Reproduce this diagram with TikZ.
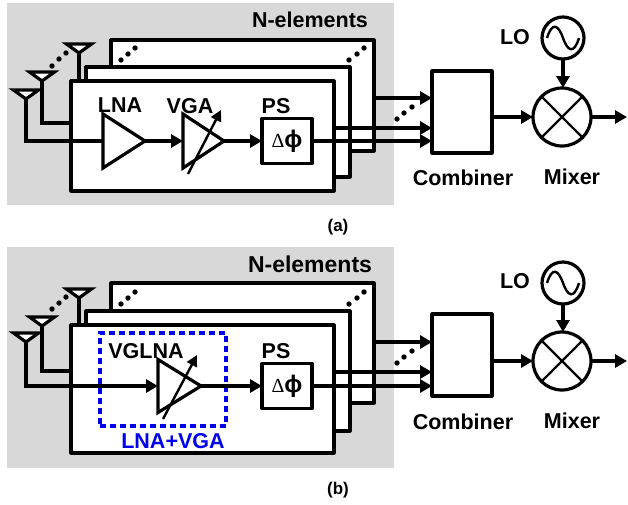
\documentclass[tikz,border=0pt]{standalone}
\usepackage{fontspec}
\setmainfont{Liberation Sans}
\newfontfamily\symbfont{Liberation Serif}
\usetikzlibrary{arrows.meta}
\usetikzlibrary{shapes.geometric}
\definecolor{panelgray}{RGB}{216,216,216}
\definecolor{lnablue}{RGB}{0,0,240}
\newcommand{\dphi}{{\symbfont\fontsize{20}{20}\selectfont\symbol{"0394}}{\fontsize{24}{24}\selectfont\bfseries\symbol{"03D5}}}
\tikzset{
	wire/.style={line width=3.2pt},
	arrowwire/.style={line width=3.2pt, -{Triangle[length=12pt,width=13pt]}},
	elembox/.style={draw, fill=white, line width=3.2pt, line join=round, inner sep=0pt, outer sep=0pt},
	amp/.style={draw, fill=white, line width=3.2pt, isosceles triangle, isosceles triangle stretches, inner sep=0pt, outer sep=0pt, anchor=lower side},
	antenna/.style={draw, fill=white, line width=3.2pt, isosceles triangle, isosceles triangle stretches, shape border rotate=270, inner sep=0pt, outer sep=0pt, minimum width=25pt, minimum height=9pt, anchor=apex},
	lbl/.style={font=\fontsize{21.5}{22}\selectfont\bfseries, inner sep=0pt},
	sublbl/.style={font=\fontsize{17}{17}\selectfont\bfseries, inner sep=0pt},
	roundblock/.style={draw, fill=white, circle, line width=3.2pt, inner sep=0pt, outer sep=0pt},
	gain/.style={line width=2.4pt, -{Triangle[length=11pt,width=11pt]}}
}
\begin{document}
\begin{tikzpicture}[x=1pt,y=-1pt]
	\useasboundingbox (0,0) rectangle (628,504);

	% Panel (a): gray background
	\fill[panelgray] (7,3) rectangle (394,205);
	\node[lbl] (title1) at (310,20) {N-elements};

	% Stacked element boxes
	\node[elembox, minimum width=263pt, minimum height=111pt] (back1) at (242.5,95.5) {};
	\node[elembox, minimum width=264pt, minimum height=110pt] (mid1) at (218,122) {};
	\fill (121,60) circle (2.7pt) (128,54) circle (2.7pt) (135,48) circle (2.7pt);
	\fill (349,60) circle (2.7pt) (357,54) circle (2.7pt) (364,48) circle (2.7pt);

	% Antennas
	\node[antenna] (ant1a) at (26,99) {};
	\node[antenna] (ant2a) at (42,81) {};
	\node[antenna] (ant3a) at (79,53) {};
	\coordinate (in2a) at (71,123);
	\node[elembox, minimum width=263pt, minimum height=110pt] (front1) at (202.5,136) {};
	\draw[wire] (ant2a.apex) |- (in2a);
	\draw[wire] (ant3a.apex) -- (ant3a.apex |- front1.north);
	\fill (52,66) circle (2.7pt) (59,59) circle (2.7pt) (66,53) circle (2.7pt);

	% LNA, VGA, PS
	\node[amp, minimum width=54pt, minimum height=42pt] (lna1) at (103,141) {};
	\node[amp, minimum width=54pt, minimum height=41pt] (vga1) at (183,141) {};
	\node[elembox, minimum width=50pt, minimum height=45pt] (ps1) at (287,141) {\dphi};
	\node[lbl] (lnatxt1) at (120,105) {LNA};
	\node[lbl] (vgatxt1) at (190,106) {VGA};
	\node[lbl] (pstxt1) at (276,106) {PS};
	\draw[gain] (188,174) -- (221,110);
	\draw[wire] (ant1a.apex) |- (lna1.lower side);
	\draw[arrowwire] (lna1.apex) -- (vga1.lower side);
	\draw[arrowwire] (vga1.apex) -- (ps1.west);

	% Combiner and mixer
	\node[elembox, minimum width=60pt, minimum height=82pt] (comb1) at (462,112) {};
	\node[lbl] (combtxt1) at (463,178) {Combiner};
	\node[roundblock, minimum size=58pt] (mix1) at (562,117) {};
	\node[lbl] (mixtxt1) at (572,177) {Mixer};
	\node[roundblock, minimum size=42pt] (lo1) at (563,38) {};
	\node[lbl] (lotxt1) at (515,37) {LO};
	\draw[line width=2.4pt] (mix1.45) -- (mix1.225);
	\draw[line width=2.4pt] (mix1.135) -- (mix1.315);
	\draw[line width=2.4pt] (547,38) .. controls (552,22) and (558,24) .. (563,38) .. controls (568,52) and (574,54) .. (579,38);

	% Outputs
	\coordinate (c1a) at (comb1.west |- 0,98);
	\coordinate (c2a) at (comb1.west |- 0,128);
	\coordinate (c3a) at (comb1.west |- 0,141);
	\coordinate (out1) at (627,117);
	\draw[arrowwire] (back1.east |- c1a) -- (c1a);
	\draw[arrowwire] (front1.east |- c2a) -- (c2a);
	\draw[arrowwire] (ps1.east |- c3a) -- (c3a);
	\fill (397,119) circle (2.7pt) (404,113) circle (2.7pt) (412,107) circle (2.7pt);
	\draw[arrowwire] (comb1.east |- mix1.west) -- (mix1.west);
	\draw[arrowwire] (lo1.south) -- (mix1.north -| lo1.south);
	\draw[arrowwire] (mix1.east) -- (out1);
	\node[sublbl] (capa) at (338,227) {(a)};

	% Panel (b): gray background
	\fill[panelgray] (7,247) rectangle (394,468);
	\node[lbl, font=\fontsize{23}{23}\selectfont\bfseries] (title2) at (310,264) {N-elements};

	% Stacked element boxes
	\node[elembox, minimum width=263pt, minimum height=120pt] (back2) at (242.5,343) {};
	\node[elembox, minimum width=264pt, minimum height=120pt] (mid2) at (218,371) {};
	\fill (121,304) circle (2.7pt) (128,298) circle (2.7pt) (135,292) circle (2.7pt);
	\fill (349,304) circle (2.7pt) (357,298) circle (2.7pt) (364,292) circle (2.7pt);

	% Antennas
	\node[antenna] (ant1b) at (26,342) {};
	\node[antenna] (ant2b) at (42,326) {};
	\node[antenna] (ant3b) at (79,298) {};
	\coordinate (in2b) at (71,371);
	\node[elembox, minimum width=263pt, minimum height=128pt] (front2) at (202.5,389) {};
	\draw[wire] (ant2b.apex) |- (in2b);
	\draw[wire] (ant3b.apex) -- (ant3b.apex |- front2.north);
	\fill (52,309) circle (2.7pt) (59,303) circle (2.7pt) (66,297) circle (2.7pt);

	% VGLNA, PS
	\node[draw=lnablue, line width=3.2pt, dash pattern=on 6pt off 4pt, minimum width=126pt, minimum height=93pt, inner sep=0pt] (dash2) at (163,379.5) {};
	\node[lbl] (vglnatxt2) at (146,351) {VGLNA};
	\node[lbl, text=lnablue] (sumtxt2) at (173,441) {LNA+VGA};
	\node[amp, minimum width=53pt, minimum height=43pt] (lna2) at (158,386) {};
	\node[elembox, minimum width=50pt, minimum height=45pt] (ps2) at (287,386) {\dphi};
	\node[lbl] (pstxt2) at (276,351) {PS};
	\draw[gain] (163,419) -- (197,355);
	\draw[arrowwire] (ant1b.apex) |- (lna2.lower side);
	\draw[arrowwire] (lna2.apex) -- (ps2.west);

	% Combiner and mixer
	\node[elembox, minimum width=60pt, minimum height=82pt] (comb2) at (462,355) {};
	\node[lbl] (combtxt2) at (463,422) {Combiner};
	\node[roundblock, minimum size=58pt] (mix2) at (562,361) {};
	\node[lbl] (mixtxt2) at (572,421) {Mixer};
	\node[roundblock, minimum size=42pt] (lo2) at (563,283) {};
	\node[lbl] (lotxt2) at (515,281) {LO};
	\draw[line width=2.4pt] (mix2.45) -- (mix2.225);
	\draw[line width=2.4pt] (mix2.135) -- (mix2.315);
	\draw[line width=2.4pt] (547,283) .. controls (552,267) and (558,269) .. (563,283) .. controls (568,297) and (574,299) .. (579,283);

	% Outputs
	\coordinate (c1b) at (comb2.west |- 0,342);
	\coordinate (c2b) at (comb2.west |- 0,372);
	\coordinate (c3b) at (comb2.west |- 0,386);
	\coordinate (out2) at (627,361);
	\draw[arrowwire] (back2.east |- c1b) -- (c1b);
	\draw[arrowwire] (front2.east |- c2b) -- (c2b);
	\draw[arrowwire] (ps2.east |- c3b) -- (c3b);
	\fill (397,363) circle (2.7pt) (404,357) circle (2.7pt) (412,351) circle (2.7pt);
	\draw[arrowwire] (comb2.east |- mix2.west) -- (mix2.west);
	\draw[arrowwire] (lo2.south) -- (mix2.north -| lo2.south);
	\draw[arrowwire] (mix2.east) -- (out2);
	\node[sublbl] (capb) at (338,490) {(b)};
\end{tikzpicture}
\end{document}
